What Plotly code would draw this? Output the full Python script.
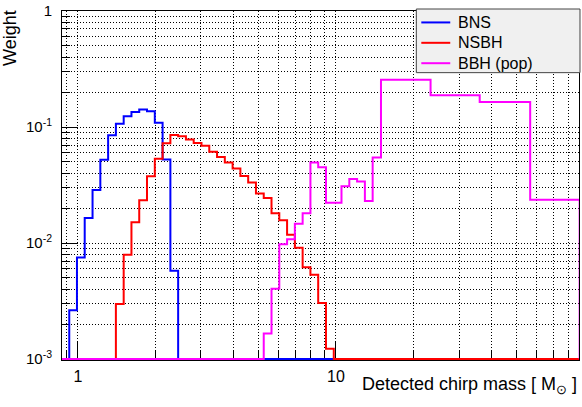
import numpy as np
import plotly.graph_objects as go

# ---------------- data ----------------
bns_edges = [0.926, 0.992, 1.063, 1.140, 1.222, 1.310, 1.404, 1.505, 1.613,
             1.729, 1.853, 1.987, 2.130, 2.283, 2.447]
bns_weight = [0.00264, 0.00749, 0.0164, 0.0286, 0.0522, 0.0849, 0.1067, 0.124,
              0.135, 0.1416, 0.137, 0.109, 0.0525, 0.00577]

nsbh_edges = [1.404, 1.505, 1.613, 1.729, 1.853, 1.987, 2.130, 2.283, 2.447,
              2.623, 2.811, 3.013, 3.230, 3.462, 3.711, 3.978, 4.264, 4.571,
              4.899, 5.252, 5.629, 6.034, 6.468, 6.933, 7.431, 7.966, 8.538,
              9.152, 9.811]
nsbh_weight = [0.00299, 0.00794, 0.0151, 0.0234, 0.0376, 0.0533, 0.0725, 0.0855,
               0.0833, 0.078, 0.073, 0.0688, 0.0611, 0.0551, 0.0495, 0.044,
               0.0379, 0.0332, 0.0267, 0.0244, 0.0181, 0.0157, 0.0118, 0.00912,
               0.0062, 0.00532, 0.00305, 0.00123]

bbh_edges = [5.252, 5.629, 6.034, 6.468, 6.933, 7.431, 7.966, 8.538, 9.152,
             9.811, 10.51, 11.27, 12.08, 12.95, 13.88, 14.95, 23.27, 36.07,
             56.6, 88.0]
bbh_weight = [0.00166, 0.00404, 0.00975, 0.0108, 0.0147, 0.0181, 0.0495, 0.0449,
              0.0223, 0.0223, 0.0309, 0.0357, 0.0339, 0.023, 0.0547, 0.256,
              0.188, 0.164, 0.0236]

series_names = ["BNS", "NSBH", "BBH (pop)"]
series_colors = ["#0000ff", "#ff0000", "#ff00ff"]

x_major = [1, 10]
x_major_text = ["1", "10"]
x_minor = [0.9, 2, 3, 4, 5, 6, 7, 8, 9, 20, 30, 40, 50, 60, 70, 80]
y_major = [0.001, 0.01, 0.1, 1]
y_major_text = ["10<sup>-3</sup>", "10<sup>-2</sup>", "10<sup>-1</sup>", "1"]
y_minor = [m * d for d in (0.001, 0.01, 0.1) for m in range(2, 10)]

XMIN, XMAX = 0.868, 87.5
YMIN, YMAX = 1e-3, 1.0

FONT = "Liberation Sans, Arial, Helvetica, sans-serif"

# plot-area geometry in pixels (for placing layout items)
L, R, T, B = 62, 580, 9, 360


def px_x(p):
    return (p - L) / (R - L)


def px_y(p):
    return (B - p) / (B - T)


def step_path(edges, weights):
    x = [XMIN] + list(edges)
    y = [YMIN] + [max(w, YMIN) for w in weights] + [YMIN]
    if edges[-1] < XMAX:
        x.append(XMAX)
        y.append(YMIN)
    else:
        y = y[:len(x)]
    return x, y


fig = go.Figure()
for name, edges, weights, color in zip(series_names,
                                       [bns_edges, nsbh_edges, bbh_edges],
                                       [bns_weight, nsbh_weight, bbh_weight],
                                       series_colors):
    xs, ys = step_path(edges, weights)
    fig.add_trace(go.Scatter(x=xs, y=ys, mode="lines", name=name, showlegend=False,
                             line=dict(color=color, width=2, shape="hv")))

grid = dict(showgrid=True, gridcolor="#000000", gridwidth=1, griddash="1px,2px")

fig.update_xaxes(
    type="log", range=[np.log10(XMIN), np.log10(XMAX)],
    tickmode="array", tickvals=x_major, ticktext=x_major_text,
    ticks="inside", ticklen=18, tickcolor="black", tickwidth=1,
    showline=True, linecolor="black", linewidth=1, mirror=True,
    tickfont=dict(family=FONT, size=16, color="black"),
    ticklabelstandoff=2,
    zeroline=False, layer="below traces",
    minor=dict(tickmode="array", tickvals=x_minor, ticks="inside", ticklen=9,
               tickcolor="black", **grid),
    **grid,
)
fig.update_yaxes(
    type="log", range=[np.log10(YMIN) - 0.008, np.log10(YMAX)],
    tickmode="array", tickvals=y_major, ticktext=y_major_text,
    ticks="inside", ticklen=16, tickcolor="black", tickwidth=1,
    showline=True, linecolor="black", linewidth=1, mirror=True,
    tickfont=dict(family=FONT, size=15, color="black"),
    ticklabelstandoff=6,
    zeroline=False, layer="below traces",
    minor=dict(tickmode="array", tickvals=y_minor, ticks="inside", ticklen=8,
               tickcolor="black", **grid),
    **grid,
)

# hand-drawn ROOT-style legend box
shapes = [dict(type="rect", xref="paper", yref="paper",
               x0=px_x(417), x1=px_x(581), y0=px_y(71), y1=px_y(7),
               fillcolor="#f0f0f0", line=dict(color="#444444", width=1), layer="above")]
annotations = []
for i, (name, color) in enumerate(zip(series_names, series_colors)):
    yy = px_y(20.5 + 20.5 * i)
    shapes.append(dict(type="line", xref="paper", yref="paper",
                       x0=px_x(422), x1=px_x(451), y0=yy, y1=yy,
                       line=dict(color=color, width=2), layer="above"))
    annotations.append(dict(text=name, xref="paper", yref="paper",
                            x=px_x(457), y=yy, xanchor="left", yanchor="middle",
                            showarrow=False,
                            font=dict(family=FONT, size=16, color="black")))

annotations += [
    dict(text="Detected chirp mass [ M<sub>⊙</sub> ]", xref="paper", yref="paper",
         x=1.0, y=px_y(386), xanchor="right", yanchor="middle",
         showarrow=False, font=dict(family=FONT, size=18, color="black")),
    dict(text="Weight", xref="paper", yref="paper", textangle=-90,
         x=px_x(10), y=px_y(36), xanchor="center", yanchor="middle",
         showarrow=False, font=dict(family=FONT, size=18, color="black")),
]

fig.update_layout(
    width=582, height=407,
    margin=dict(l=L, r=582 - R, t=T, b=407 - B),
    paper_bgcolor="white", plot_bgcolor="white",
    showlegend=False,
    shapes=shapes,
    annotations=annotations,
)

fig.write_html("out.html", config={"displayModeBar": False},
               post_script="document.body.style.margin='0px';")
